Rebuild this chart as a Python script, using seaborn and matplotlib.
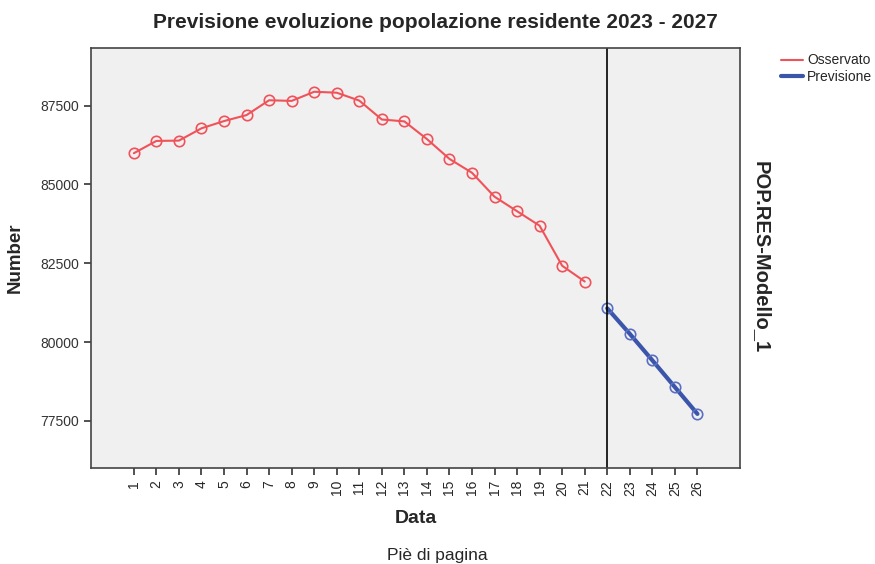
import numpy as np
import pandas as pd
import matplotlib
matplotlib.use("Agg")
import matplotlib.pyplot as plt
import seaborn as sns

# valori
periodi_oss = list(range(1, 22))
osservato = [85990, 86380, 86390, 86780, 87010, 87200, 87670, 87650, 87940, 87910,
             87660, 87060, 87000, 86440, 85810, 85370, 84610, 84150, 83690, 82420, 81920]
periodi_prev = list(range(22, 27))
previsione = [81070, 80260, 79420, 78570, 77720]
y_ticks = [77500, 80000, 82500, 85000, 87500]

df = pd.concat([
    pd.DataFrame({"Data": periodi_oss, "Number": osservato, "Serie": "Osservato"}),
    pd.DataFrame({"Data": periodi_prev, "Number": previsione, "Serie": "Previsione"}),
])

sns.set_style("white")
plt.rcParams["font.family"] = ["Liberation Sans", "DejaVu Sans"]

fig = plt.figure(figsize=(8.75, 5.64), dpi=100)
ax = fig.add_axes([0.104, 0.170, 0.742, 0.745])
ax.set_facecolor("#f0f0f0")

red = "#f0525a"
blue = "#3b55ab"

sns.lineplot(data=df[df.Serie == "Osservato"], x="Data", y="Number", ax=ax,
             color=red, linewidth=1.5, marker="o", markersize=7.5,
             markerfacecolor="none", markeredgecolor=red, markeredgewidth=1.2,
             label="Osservato")
sns.lineplot(data=df[df.Serie == "Previsione"], x="Data", y="Number", ax=ax,
             color=blue, linewidth=3, marker="o", markersize=7.5,
             markerfacecolor="none", markeredgecolor="#5a6fc0", markeredgewidth=1.2,
             label="Previsione")

ax.axvline(22, color="black", linewidth=1.2)

ax.set_xlim(-0.9, 27.9)
ax.set_ylim(76000, 89330)
ax.set_xticks(range(1, 27))
ax.set_xticklabels([str(i) for i in range(1, 27)], rotation=90, fontsize=10)
ax.set_yticks(y_ticks)
ax.set_yticklabels([str(v) for v in y_ticks], fontsize=10, color="#333333")
ax.tick_params(axis="both", direction="out", length=5, width=1.2, color="#333333",
               bottom=True, left=True)

for s in ax.spines.values():
    s.set_color("#444444")
    s.set_linewidth(1.2)

fig.text(0.498, 0.960, "Previsione evoluzione popolazione residente 2023 - 2027",
         fontsize=15, fontweight="bold", ha="center", va="center")
ax.set_xlabel("Data", fontsize=14, fontweight="bold", labelpad=10)
ax.set_ylabel("Number", fontsize=13.5, fontweight="bold", labelpad=12)

fig.text(0.870, 0.545, "POP.RES-Modello_1", rotation=270, fontsize=14.5,
         fontweight="bold", ha="center", va="center")
fig.text(0.500, 0.015, "Piè di pagina", fontsize=12.5, ha="center", va="center")

leg = ax.legend(loc="upper left", bbox_to_anchor=(0.886, 0.915),
                bbox_transform=fig.transFigure, frameon=False,
                fontsize=10, handlelength=1.6, handletextpad=0.3,
                labelspacing=0.2, borderaxespad=0)
for line in leg.get_lines():
    line.set_marker("")

fig.savefig("out.png", dpi=100)
